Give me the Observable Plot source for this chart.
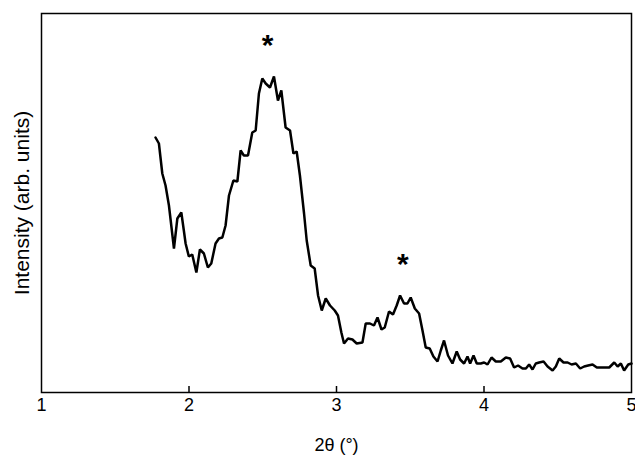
<!DOCTYPE html>
<html>
<head>
<meta charset="utf-8">
<script src="https://cdn.jsdelivr.net/npm/d3@7"></script>
<script src="https://cdn.jsdelivr.net/npm/@observablehq/plot@0.6"></script>
<style>
  html, body { margin: 0; padding: 0; background: #fff; }
  #chart svg { display: block; }
  g[aria-label="ylabel"] text { letter-spacing: 1.1px; }
</style>
</head>
<body>
<div id="chart"></div>
<script>
// 2θ positions (degrees)
const twoTheta = [
  1.773, 1.796, 1.819, 1.841, 1.864, 1.898, 1.921, 1.948, 1.965, 1.977,
  1.999, 2.022, 2.050, 2.074, 2.101, 2.128, 2.151, 2.180, 2.203, 2.226,
  2.248, 2.271, 2.301, 2.328, 2.350, 2.372, 2.400, 2.429, 2.452, 2.474,
  2.497, 2.520, 2.549, 2.576, 2.603, 2.626, 2.655, 2.685, 2.708, 2.730,
  2.752, 2.780, 2.798, 2.825, 2.852, 2.875, 2.900, 2.927, 2.956, 2.988,
  3.010, 3.033, 3.051, 3.078, 3.108, 3.137, 3.176, 3.198, 3.227, 3.254,
  3.278, 3.305, 3.327, 3.356, 3.383, 3.408, 3.431, 3.458, 3.481, 3.503,
  3.531, 3.560, 3.583, 3.605, 3.632, 3.657, 3.685, 3.707, 3.729, 3.756,
  3.786, 3.815, 3.838, 3.865, 3.888, 3.906, 3.929, 3.951, 3.978, 4.001,
  4.024, 4.051, 4.080, 4.114, 4.148, 4.177, 4.204, 4.231, 4.261, 4.284,
  4.306, 4.329, 4.351, 4.374, 4.404, 4.431, 4.465, 4.487, 4.510, 4.539,
  4.567, 4.594, 4.623, 4.652, 4.679, 4.706, 4.736, 4.765, 4.792, 4.820,
  4.849, 4.883, 4.906, 4.928, 4.950, 4.978, 5.000
];
// Intensity (arbitrary units)
const intensity = [
  255, 249, 219, 207, 187, 144, 174, 180, 162, 149,
  136, 138, 120, 143, 139, 125, 129, 149, 154, 155,
  167, 197, 212, 211, 242, 237, 237, 260, 262, 299,
  314, 309, 305, 316, 292, 302, 265, 262, 239, 241,
  217, 179, 152, 127, 124, 97, 82, 94, 87, 82,
  77, 60, 49, 54, 53, 49, 50, 69, 69, 67,
  75, 63, 65, 81, 78, 87, 97, 89, 89, 95,
  84, 79, 62, 45, 44, 36, 31, 42, 52, 37,
  29, 41, 33, 29, 36, 29, 37, 29, 29, 30,
  28, 35, 31, 31, 35, 34, 25, 27, 24, 24,
  28, 23, 29, 30, 31, 26, 22, 26, 34, 30,
  30, 28, 29, 24, 26, 27, 28, 25, 25, 25,
  25, 30, 26, 29, 22, 28, 29
];
// Peak markers
const peakX = [2.533, 3.449];
const peakY = [316, 97];
const peakLabels = ["*", "*"];
// Axis
const xTicks = [1, 2, 3, 4, 5];
const xLabel = "2θ (°)";
const yLabel = "Intensity (arb. units)";

const data = twoTheta.map((x, i) => ({x, y: intensity[i]}));
const peaks = peakX.map((x, i) => ({x, y: peakY[i], t: peakLabels[i]}));

const font = "'Liberation Sans', Arial, Helvetica, sans-serif";

const chart = Plot.plot({
  width: 635,
  height: 461,
  marginLeft: 41,
  marginRight: 4,
  marginTop: 13,
  marginBottom: 69,
  style: {fontFamily: font, fontSize: "18px", color: "#000", background: "#fff"},
  x: {domain: [1, 5]},
  y: {domain: [0, 379]},
  marks: [
    Plot.frame({stroke: "#000", strokeWidth: 1.5}),
    Plot.ruleX(xTicks.slice(1, -1), {stroke: "#000", strokeWidth: 1.5, insetTop: 373}),
    Plot.axisX({ticks: xTicks, tickSize: 0, tickPadding: 6, tickFormat: d => String(d), fontSize: 18, label: null}),
    Plot.axisY({ticks: [], label: null}),
    Plot.text([xLabel], {frameAnchor: "bottom", dy: 58, fontSize: 18, fill: "#000"}),
    Plot.text([yLabel], {ariaLabel: "ylabel", frameAnchor: "left", textAnchor: "middle", rotate: -90, dx: -19, fontSize: 21, fill: "#000"}),
    Plot.line(data, {x: "x", y: "y", stroke: "#000", strokeWidth: 2.5, strokeLinejoin: "miter"}),
    Plot.text(peaks, {x: "x", y: "y", text: "t", dy: -31, fontSize: 30, fontWeight: "bold", fill: "#000"})
  ]
});
document.getElementById("chart").appendChild(chart);
</script>
</body>
</html>
